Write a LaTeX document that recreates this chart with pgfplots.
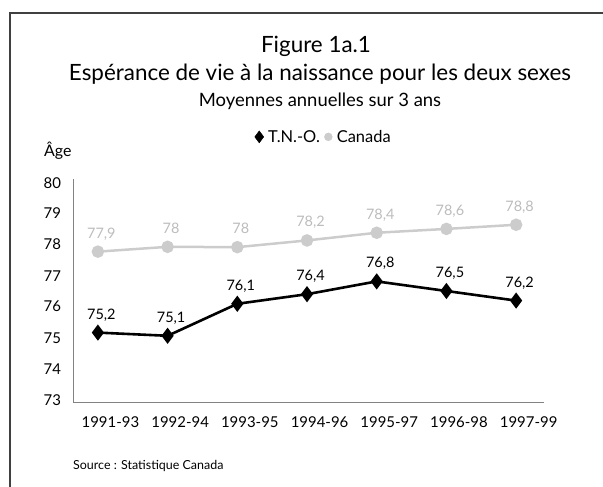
\documentclass[border=0pt]{standalone}
\usepackage{fontspec}
\setmainfont{Lato}
\usepackage{pgfplots}
\pgfplotsset{compat=1.18}
\definecolor{cgray}{RGB}{204,204,204}
\definecolor{axgray}{RGB}{130,130,130}
\begin{document}
\begin{tikzpicture}[x=1bp,y=1bp]
\begin{axis}[
  scale only axis, width=470.5bp, height=224bp,
  xmin=-0.35, xmax=6.4, ymin=73, ymax=80,
  axis x line*=bottom, axis y line*=left,
  axis line style={axgray, line width=1bp, -},
  major tick length=0pt,
  xtick={0.18,1.18,2.18,3.18,4.18,5.18,6.18},
  xticklabels={1991-93,1992-94,1993-95,1994-96,1995-97,1996-98,1997-99},
  ytick={73.09,74.05,75.02,76.01,76.97,77.97,78.92,79.86},
  yticklabels={73,74,75,76,77,78,79,80},
  ticklabel style={font=\fontsize{15}{18}\selectfont},
  yticklabel style={anchor=east, xshift=-9bp},
  xticklabel style={anchor=base, yshift=-25bp},
  legend style={at={(0.5345,1.188)}, anchor=center, draw=none, fill=none,
    legend columns=-1, font=\fontsize{16.5}{20}\selectfont,
    nodes={inner xsep=4.5bp},
    /tikz/every even column/.append style={column sep=0bp},
    /tikz/every odd column/.append style={column sep=0bp}},
  legend image code/.code={\draw[#1] plot coordinates {(0cm,0cm)};},
  legend cell align=left,
  clip=false,
  nodes near coords, point meta=explicit symbolic,
  every node near coord/.append style={font=\fontsize{14.5}{17}\selectfont, anchor=base, yshift=13.5bp, xshift=3.5bp},
]
\coordinate (O) at (rel axis cs:0,0);
\addlegendimage{only marks, mark=diamond*, mark size=6pt, black}
\addlegendentry{T.N.-O.}
\addlegendimage{only marks, mark=*, mark size=4pt, cgray}
\addlegendentry{Canada}
\addplot[forget plot, cgray, line width=2.5bp, mark=*, mark size=5pt, mark options={cgray},
  every node near coord/.append style={text=cgray!92!black}]
  table[meta=lab] {
x y lab
0 77.73 {77,9}
1 77.88 78
2 77.87 78
3 78.08 {78,2}
4 78.32 {78,4}
5 78.44 {78,6}
6 78.57 {78,8}
};
\addplot[forget plot, black, line width=2.6bp, mark=diamond*, mark size=6pt, mark options={black},
  every node near coord/.append style={text=black}]
  table[meta=lab] {
x y lab
0 75.2 {75,2}
1 75.1 {75,1}
2 76.1 {76,1}
3 76.4 {76,4}
4 76.8 {76,8}
5 76.5 {76,5}
6 76.2 {76,2}
};
\end{axis}
\begin{scope}[shift={(O)}, shift={(-73.5,-84)}]
\draw[line width=1.4bp, color=black!75] (10,0) -- (10,474) -- (603,474);
\node[font=\fontsize{22.5}{26}\selectfont, anchor=base, inner sep=0] at (316,434.3) {Figure 1a.1};
\node[font=\fontsize{22.5}{26}\selectfont, anchor=base, inner sep=0] at (320,406) {Espérance de vie à la naissance pour les deux sexes};
\node[font=\fontsize{18.5}{22}\selectfont, anchor=base, inner sep=0] at (320,380.3) {Moyennes annuelles sur 3 ans};
\node[font=\fontsize{16}{19}\selectfont, anchor=base west, inner sep=0] at (44,330.3) {Âge};
\node[font=\fontsize{12.5}{15}\selectfont, anchor=base west, inner sep=0] at (73,17.7) {Source : Statistique Canada};
\pgfresetboundingbox
\path[use as bounding box] (0,0) rectangle (603,487);
\end{scope}
\end{tikzpicture}
\end{document}
